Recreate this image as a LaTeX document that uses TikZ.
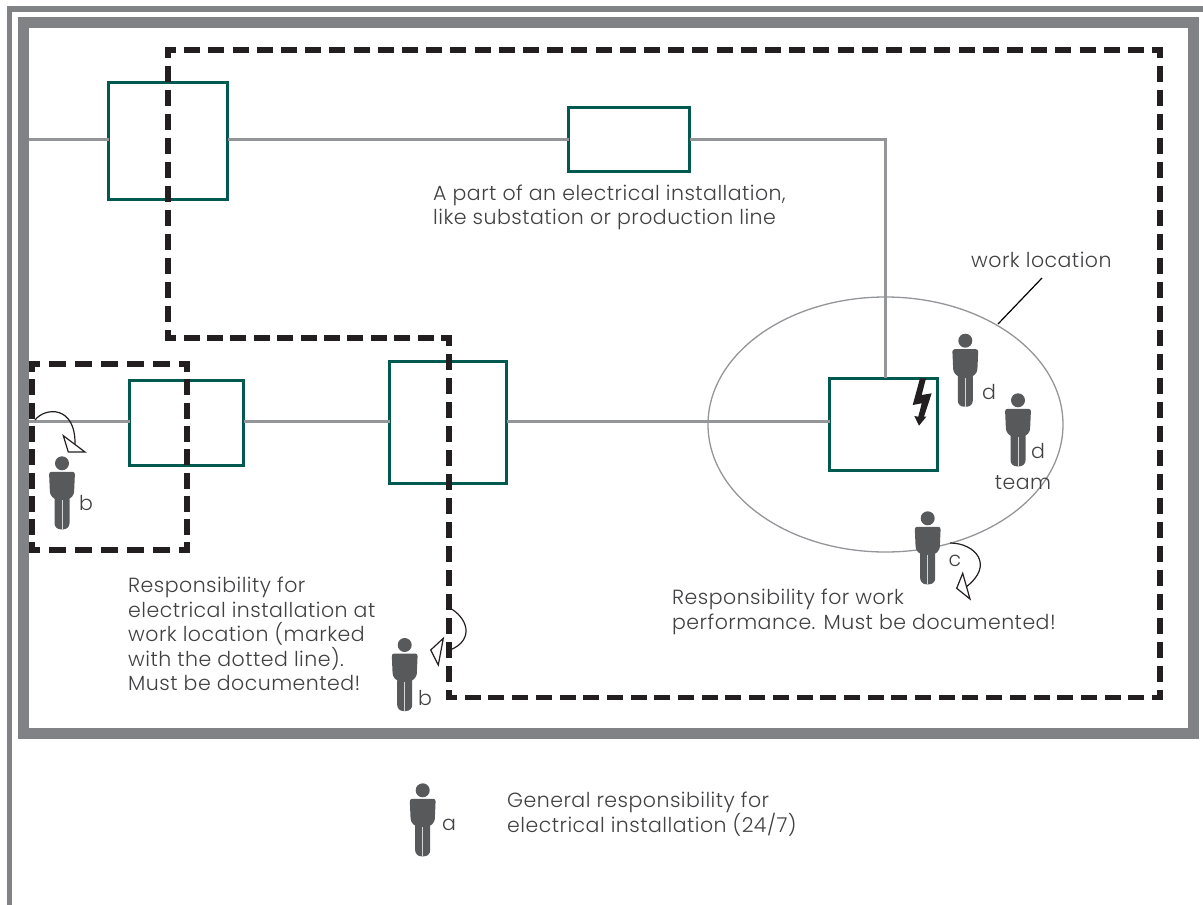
\documentclass[tikz,border=0pt]{standalone}
\usepackage{fontspec}
\usetikzlibrary{shapes.geometric}
\setmainfont[LetterSpace=2.3]{Poppins Light}
\definecolor{framegray}{HTML}{808285}
\definecolor{wiregray}{HTML}{939598}
\definecolor{boxteal}{HTML}{005A50}
\definecolor{dashblack}{HTML}{231F20}
\definecolor{manfill}{HTML}{58595B}
\definecolor{textgray}{HTML}{414042}
\tikzset{
    %Define style for boxes
    fieldbox/.style={
           rectangle,
           draw=boxteal,
           line width=3pt,
           inner sep=0pt,
           outer sep=0pt,
           },
    %Define style for texts
    note/.style={
           anchor=west,
           align=left,
           inner sep=0pt,
           text=textgray,
           font=\fontsize{20.5}{24.5}\selectfont,
           },
    mark label/.style={
           inner sep=0pt,
           text=textgray,
           font=\fontsize{20.5}{24.5}\selectfont,
           },
    % Define line styles
    wire/.style={draw=wiregray, line width=3pt},
    bigdash/.style={draw=dashblack, line width=5.5pt, shorten <=-2.75pt, shorten >=-2.75pt,
           dash pattern=on 16pt off #1, dash phase=5.25pt},
    smalldash/.style={draw=dashblack, line width=5.5pt, shorten <=-2.75pt, shorten >=-2.75pt,
           dash pattern=on 17pt off 9pt, dash phase=6.25pt},
    turn/.style={draw=dashblack, line width=1.2pt},
    turntip/.style={draw=dashblack, line width=1.2pt, fill=white, line join=miter},
    % Define the standing man
    man/.pic={
       \fill[manfill] (0,0) circle (7);
       \fill[manfill, rounded corners=2.5] (-13,8.5) -- (13,8.5) -- (12,31) -- (7.5,36) -- (-7.5,36) -- (-12,31) -- cycle;
       \fill[manfill, rounded corners=6] (-7.5,30) -- (7.5,30) -- (7.5,66) -- (-7.5,66) -- cycle;
       \draw[white!75!manfill, line width=0.8pt] (0,37) -- (0,66);
    }
}
\begin{document}
\begin{tikzpicture}[x=1pt,y=-1pt]
\useasboundingbox (0,0) rectangle (1203,905);
 %frames
\draw[framegray, line width=5.5pt] (9.5,905) -- (9.5,8.8) -- (1203,8.8);
\draw[framegray, line width=11pt] (23.5,22.8) rectangle (1193.5,733.5);
 %free ends of the wires
\coordinate (wiretop) at (29,139);
\coordinate (wirelow) at (29,421.5);
\coordinate (drop) at (885,378);
 %nodes
\node[fieldbox, minimum width=119pt, minimum height=117pt] (unit1) at (168,140.5) {};
\node[fieldbox, minimum width=121pt, minimum height=64pt] (unit2) at (629,139.5) {};
\node[fieldbox, minimum width=114pt, minimum height=85pt] (unit3) at (186.75,422.5) {};
\node[fieldbox, minimum width=117pt, minimum height=122pt] (unit4) at (448,422.5) {};
\node[fieldbox, minimum width=108pt, minimum height=92pt] (unit5) at (883.5,424.5) {};
\node[draw=wiregray, line width=1.3pt, ellipse, minimum width=355pt, minimum height=255pt, inner sep=0pt] (place) at (885.5,424.5) {};
 %wires
\draw[wire] (wiretop) -- (wiretop -| unit1.west);
\draw[wire] (wiretop -| unit1.east) -- (wiretop -| unit2.west);
\draw[wire] (wiretop -| unit2.east) -| (drop);
\draw[wire] (wirelow) -- (wirelow -| unit3.west);
\draw[wire] (wirelow -| unit3.east) -- (wirelow -| unit4.west);
\draw[wire] (wirelow -| unit4.east) -- (wirelow -| unit5.west);
 %dashed areas
\draw[bigdash=8.2pt] (168,50) -- (1160,50);
\draw[bigdash=8pt] (1160,50) -- (1160,697.5);
\draw[bigdash=7.7pt] (1160,697.5) -- (449,697.5);
\draw[bigdash=8pt] (449,338) -- (449,697.5);
\draw[bigdash=7.4pt] (449,338) -- (168,338);
\draw[bigdash=8pt] (168,50) -- (168,338);
\draw[smalldash] (32,364) -- (187,364);
\draw[bigdash=7.3pt] (187,364) -- (187,550);
\draw[smalldash] (32,550) -- (187,550);
\draw[bigdash=7.3pt] (32,364) -- (32,550);
 %lightning
\fill[dashblack] (920,378.3) -- (926,378.3) -- (921.7,395) -- (931.7,393.3) -- (924,416.7) -- (926.5,416.5) -- (919,425.7) -- (914.3,416) -- (918.3,416.7) -- (921.7,403.3) -- (912.7,405) -- cycle;
 %men
\pic at (62,463.3) {man};
\pic at (404.7,645) {man};
\pic at (965.3,340.7) {man};
\pic at (1018,400.3) {man};
\pic at (927.7,518.3) {man};
\pic at (422.7,790.3) {man};
 %turning arrows
\coordinate (turn1) at (35,420);
\coordinate (turn2) at (448,607);
\coordinate (turn3) at (950,543);
\draw[turn] (turn1) .. controls (45,407) and (76,405) .. (75,445);
\draw[turntip] (63.3,435.7) -- (68.3,452) -- (85,452) -- cycle;
\draw[turn] (turn2) .. controls (468,617) and (475,640) .. (450,650);
\draw[turntip] (443.3,638.3) -- (430.7,650) -- (438.3,665) -- cycle;
\draw[turn] (turn3) .. controls (975,543) and (995,565) .. (966,587);
\draw[turntip] (962.7,573.3) -- (956.7,588.3) -- (970,599) -- cycle;
 %labels
\node[mark label] (markb1) at (86,503) {b};
\node[mark label] (markb2) at (425,698) {b};
\node[mark label] (markd1) at (989,392) {d};
\node[mark label] (markd2) at (1038,451) {d};
\node[mark label] (markc) at (955,561) {c};
\node[mark label] (marka) at (449,825) {a};
\node[mark label] (team) at (1023,483) {team};
\node[note] (worklabel) at (971,260) {work location};
\coordinate (pointer1) at (998,324);
\coordinate (pointer2) at (1042,278);
\draw[black, line width=1.2pt] (pointer1) -- (pointer2);
\node[note] (note1) at (433,207.5) {A part of an electrical installation,\\like substation or production line};
\node[note] (note2) at (128,634) {Responsibility for\\electrical installation at\\work location (marked\\with the dotted line).\\Must be documented!};
\node[note] (note3) at (672,612) {Responsibility for work\\performance. Must be documented!};
\node[note] (note4) at (507,814) {General responsibility for\\electrical installation (24/7)};
\end{tikzpicture}
\end{document}
